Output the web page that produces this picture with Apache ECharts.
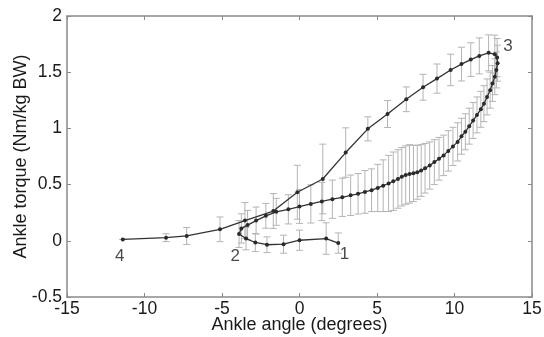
<!DOCTYPE html>
<html>
<head>
<meta charset="utf-8">
<script src="https://cdn.jsdelivr.net/npm/echarts@6/dist/echarts.min.js"></script>
<style>
html, body { margin: 0; padding: 0; background: #fff; }
#main { width: 544px; height: 337px; }
</style>
</head>
<body>
<div id="main"></div>
<script>
// gait path in order: 1 -> 2 (bottom), 2 -> 3 (lower loop), 3 -> 4 (upper return)
var angle = [
    2.5, 1.72, 0.0, -1.03, -2.1, -2.85, -3.45, -3.9,
    -3.75, -3.35, -2.8, -2.17, -1.5, -0.72, 0.0, 0.73, 1.44, 2.12, 2.76, 3.3, 3.78, 4.22, 4.65, 5.05,
    5.4, 5.75, 6.05, 6.35, 6.6, 6.85, 7.1, 7.35, 7.6, 7.85, 8.1, 8.4, 8.7, 9.0, 9.3, 9.6, 9.9,
    10.2, 10.45, 10.7, 10.95, 11.2, 11.45, 11.7, 11.9, 12.1, 12.3, 12.45, 12.6, 12.7, 12.78, 12.75, 12.6,
    12.2, 11.6, 11.05, 10.45, 9.75, 8.87, 7.97, 6.89, 5.68, 4.41, 2.98, 1.5, -0.14, -1.69, -3.52,
    -5.13, -7.28, -8.61, -11.4
];
var torque = [
    -0.02, 0.02, 0.005, -0.03, -0.035, -0.015, 0.02, 0.06,
    0.11, 0.14, 0.18, 0.222, 0.258, 0.28, 0.305, 0.328, 0.35, 0.37, 0.387, 0.405, 0.418, 0.435, 0.45, 0.47,
    0.49, 0.51, 0.53, 0.55, 0.57, 0.585, 0.595, 0.6, 0.61, 0.625, 0.645, 0.67, 0.70, 0.73, 0.76, 0.80, 0.84,
    0.88, 0.93, 0.97, 1.02, 1.07, 1.12, 1.17, 1.22, 1.28, 1.34, 1.40, 1.46, 1.52, 1.58, 1.63, 1.66,
    1.672, 1.645, 1.612, 1.572, 1.52, 1.443, 1.366, 1.259, 1.128, 0.996, 0.785, 0.55, 0.432, 0.265, 0.18,
    0.102, 0.043, 0.028, 0.012
];
var sd = [
    0.09, 0.14, 0.09, 0.08, 0.07, 0.08, 0.1, 0.12,
    0.13, 0.13, 0.12, 0.11, 0.12, 0.13, 0.15, 0.17, 0.17, 0.17, 0.17, 0.18, 0.18, 0.19, 0.19, 0.21,
    0.23, 0.25, 0.26, 0.26, 0.26, 0.26, 0.26, 0.25, 0.24, 0.23, 0.22, 0.21, 0.2, 0.19, 0.18, 0.18, 0.17,
    0.17, 0.16, 0.16, 0.16, 0.16, 0.16, 0.16, 0.16, 0.16, 0.16, 0.16, 0.16, 0.16, 0.16, 0.17, 0.17,
    0.16, 0.16, 0.15, 0.15, 0.14, 0.13, 0.115, 0.11, 0.12, 0.107, 0.22, 0.31, 0.24, 0.155, 0.16,
    0.11, 0.075, 0.035, 0
];
var markText = ['1', '2', '3', '4'];
var markX = [2.9, -4.15, 13.45, -11.6];
var markY = [-0.12, -0.14, 1.73, -0.14];

var pts = [], bars = [], marks = [];
for (var i = 0; i < angle.length; i++) {
    pts.push([angle[i], torque[i]]);
    bars.push([angle[i], torque[i] - sd[i], torque[i] + sd[i]]);
}
for (var j = 0; j < markText.length; j++) {
    marks.push({value: [markX[j], markY[j]], name: markText[j]});
}

var axisGray = '#8a8a8a';
var txt = '#1a1a1a';
var font = 'Liberation Sans';

var myChart = echarts.init(document.getElementById('main'));
var option = {
    animation: false,
    backgroundColor: '#fff',
    grid: {left: 67, right: 12, top: 16, bottom: 40, containLabel: false, outerBoundsMode: 'none'},
    xAxis: [{
        type: 'value', min: -15, max: 15, interval: 5, position: 'bottom',
        name: 'Ankle angle (degrees)', nameLocation: 'middle', nameGap: 19, nameMoveOverlap: false,
        nameTextStyle: {color: txt, fontSize: 18, fontFamily: font},
        axisLine: {show: true, onZero: false, lineStyle: {color: axisGray, width: 1.5}},
        axisTick: {show: true, inside: true, length: 4, lineStyle: {color: axisGray}},
        axisLabel: {color: txt, fontSize: 17.5, fontFamily: font, margin: 3},
        splitLine: {show: false}
    }, {
        type: 'value', min: -15, max: 15, interval: 5, position: 'top',
        axisLine: {show: true, onZero: false, lineStyle: {color: axisGray, width: 1.5}},
        axisTick: {show: true, inside: true, length: 4, lineStyle: {color: axisGray}},
        axisLabel: {show: false},
        splitLine: {show: false}
    }],
    yAxis: [{
        type: 'value', min: -0.5, max: 2, interval: 0.5, position: 'left',
        name: 'Ankle torque (Nm/kg BW)', nameLocation: 'middle', nameGap: 37, nameMoveOverlap: false,
        nameTextStyle: {color: txt, fontSize: 18, fontFamily: font},
        axisLine: {show: true, onZero: false, lineStyle: {color: axisGray, width: 1.5}},
        axisTick: {show: true, inside: true, length: 4, lineStyle: {color: axisGray}},
        axisLabel: {color: txt, fontSize: 17.5, fontFamily: font, margin: 5},
        splitLine: {show: false}
    }, {
        type: 'value', min: -0.5, max: 2, interval: 0.5, position: 'right',
        axisLine: {show: true, onZero: false, lineStyle: {color: axisGray, width: 1.5}},
        axisTick: {show: true, inside: true, length: 4, lineStyle: {color: axisGray}},
        axisLabel: {show: false},
        splitLine: {show: false}
    }],
    series: [{
        // error bars (mean +/- SD)
        type: 'custom',
        xAxisIndex: 0, yAxisIndex: 0,
        data: bars,
        encode: {x: 0, y: [1, 2]},
        renderItem: function (params, api) {
            var x = api.value(0);
            var lo = api.coord([x, api.value(1)]);
            var hi = api.coord([x, api.value(2)]);
            var w = 3.5;
            var st = {stroke: '#b4b4b4', lineWidth: 1, fill: null};
            return {
                type: 'group',
                children: [
                    {type: 'line', shape: {x1: lo[0], y1: lo[1], x2: hi[0], y2: hi[1]}, style: st},
                    {type: 'line', shape: {x1: lo[0] - w, y1: lo[1], x2: lo[0] + w, y2: lo[1]}, style: st},
                    {type: 'line', shape: {x1: hi[0] - w, y1: hi[1], x2: hi[0] + w, y2: hi[1]}, style: st}
                ]
            };
        },
        z: 1
    }, {
        type: 'line',
        xAxisIndex: 0, yAxisIndex: 0,
        data: pts,
        symbol: 'circle',
        symbolSize: 4,
        showAllSymbol: true,
        lineStyle: {color: '#333', width: 1.3},
        itemStyle: {color: '#2a2a2a'},
        z: 3
    }, {
        type: 'scatter',
        data: marks,
        symbolSize: 0,
        label: {
            show: true, position: 'inside', formatter: '{b}',
            color: txt, fontSize: 17, fontFamily: font
        },
        z: 4
    }]
};
myChart.setOption(option);
</script>
</body>
</html>
